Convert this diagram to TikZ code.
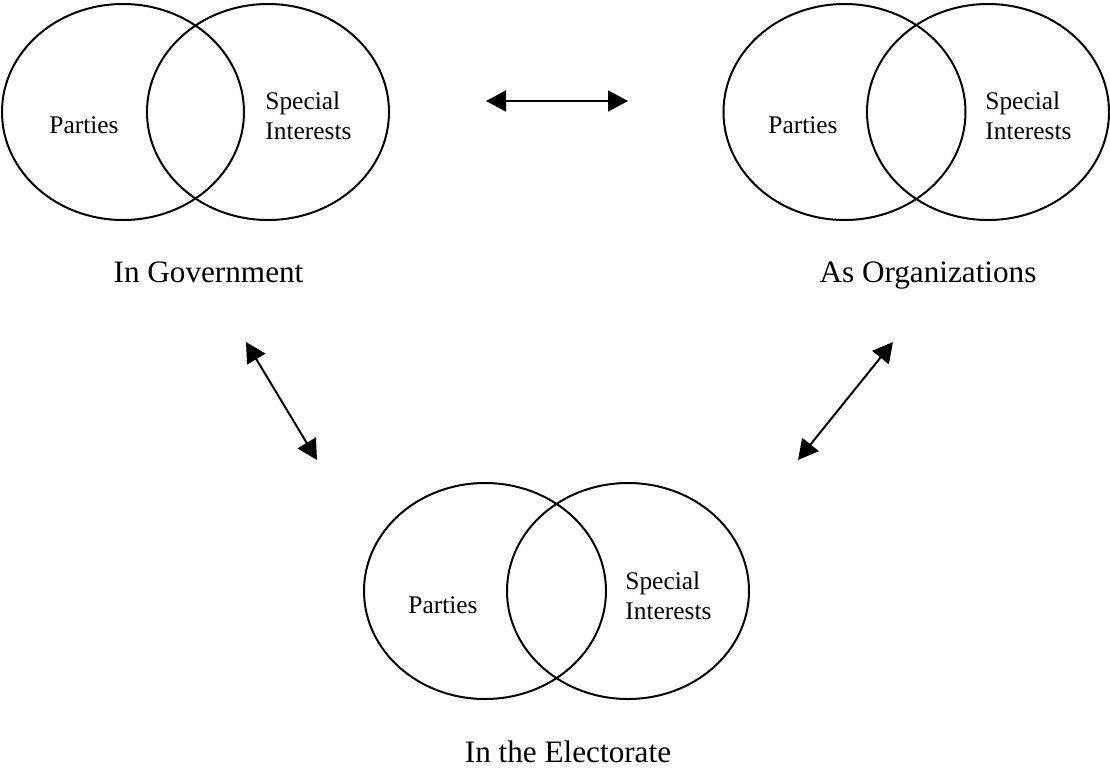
\documentclass[tikz,border=0pt]{standalone}
\usepackage{fontspec}
\setmainfont{Liberation Serif}
\usetikzlibrary{arrows.meta,shapes.geometric}
\tikzset{
  venn/.style={draw, ellipse, line width=1pt, inner sep=0pt, minimum width=121pt, minimum height=108pt},
  small/.style={font=\fontsize{12.7}{15}\selectfont, inner sep=0pt},
  big/.style={font=\fontsize{15.6}{18}\selectfont, inner sep=0pt, anchor=base},
  link/.style={line width=1pt, {Triangle[length=10pt,width=10.5pt]}-{Triangle[length=10pt,width=10.5pt]}}
}
\begin{document}
\begin{tikzpicture}[x=0.5pt,y=-0.5pt]
\useasboundingbox (0,0) rectangle (1110,767);
% top-left group
\node[venn] (gp) at (123,112) {};
\node[venn] (gs) at (268,112) {};
\node[small, anchor=base west] (gpt) at (49,133) {Parties};
\node[small, anchor=west, align=left] (gst) at (265,116) {Special\\Interests};
\node[big] (gl) at (208.5,282) {In Government};
% top-right group
\node[venn] (op) at (844.5,112) {};
\node[venn] (os) at (988,112) {};
\node[small, anchor=base west] (opt) at (768,133) {Parties};
\node[small, anchor=west, align=left] (ost) at (985,116) {Special\\Interests};
\node[big] (ol) at (928,282) {As Organizations};
% bottom group
\node[venn] (ep) at (485,591) {};
\node[venn] (es) at (628,591) {};
\node[small, anchor=base west] (ept) at (408,613) {Parties};
\node[small, anchor=west, align=left] (est) at (625,596) {Special\\Interests};
\node[big] (el) at (568,762) {In the Electorate};
% arrows
\coordinate (h1) at (486,101);
\coordinate (h2) at (628,101);
\coordinate (l1) at (246,342);
\coordinate (l2) at (317,460);
\coordinate (r1) at (893,342);
\coordinate (r2) at (798,460);
\draw[link] (h1) -- (h2);
\draw[link] (l1) -- (l2);
\draw[link] (r1) -- (r2);
\end{tikzpicture}
\end{document}
